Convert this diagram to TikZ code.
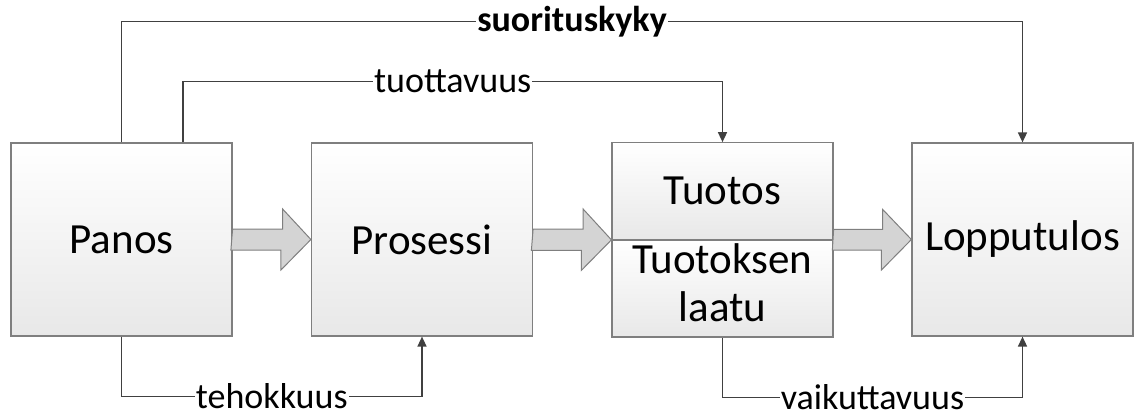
\documentclass[tikz,border=0pt]{standalone}
\usepackage{fontspec}
\setmainfont{Carlito}
\usetikzlibrary{arrows.meta,positioning}
\definecolor{linegray}{HTML}{404040}
\definecolor{boxgray}{HTML}{7F7F7F}
\definecolor{arrowfill}{HTML}{D4D4D4}
\tikzset{
  stage/.style={draw=boxgray, line width=0.6pt, top color=white, bottom color=black!9,
    minimum width=110.5pt, minimum height=96.5pt, inner sep=0pt, align=center,
    font=\fontsize{21.5}{24}\selectfont},
  half/.style={stage, minimum height=48.25pt},
  flow/.style={draw=boxgray, fill=arrowfill, line width=0.5pt, line join=miter},
  link/.style={draw=linegray, line width=0.75pt, -{Triangle[length=5pt,width=4.5pt]}},
  lbl/.style={fill=white, inner sep=0.5pt, font=\fontsize{18}{20}\selectfont}
}
\begin{document}
\begin{tikzpicture}[x=0.5pt,y=0.5pt]
    \useasboundingbox (0,0) rectangle (1135,414);
	\node [stage] (panos) at (121.5,174.5) {Panos};
	\node [stage] (prosessi) at (422,174.5) {Prosessi};
	\node [half] (tuotos) at (722.5,223) {Tuotos};
	\node [half, below=0pt of tuotos] (laatu) {Tuotoksen\\laatu\\[-18pt]\mbox{}};
	\node [stage] (lopputulos) at (1022.5,174.5) {Lopputulos};
	% block arrows
	\draw [flow] ([yshift=5.25pt]panos.east) -- ++(50,0) -- ++(0,20) -- (prosessi.west) -- ++(-30,-30.5) -- ++(0,20) -- ++(-50,0) -- cycle;
	\draw [flow] ([yshift=5.25pt]prosessi.east) -- ++(50,0) -- ++(0,20) -- (tuotos.south west) -- ++(-30,-30.5) -- ++(0,20) -- ++(-50,0) -- cycle;
	\draw [flow] ([yshift=5.25pt]tuotos.south east) -- ++(49,0) -- ++(0,20) -- (lopputulos.west) -- ++(-30,-30.5) -- ++(0,20) -- ++(-49,0) -- cycle;
	% connectors
	\draw [link] (panos.north) -- ++(0,121) -| node [lbl,pos=.25,font=\fontsize{18}{20}\selectfont\bfseries] {suorituskyky} (lopputulos.north);
	\draw [link] ([xshift=30.75pt]panos.north) -- ++(0,61) -| node [lbl,pos=.25] {tuottavuus} (tuotos.north);
	\draw [link] (panos.south) -- ++(0,-60) -| node [lbl,pos=.25] {tehokkuus} (prosessi.south);
	\draw [link] (laatu.south) -- ++(0,-60) -| node [lbl,pos=.25] {vaikuttavuus} (lopputulos.south);
    \end{tikzpicture}
\end{document}
